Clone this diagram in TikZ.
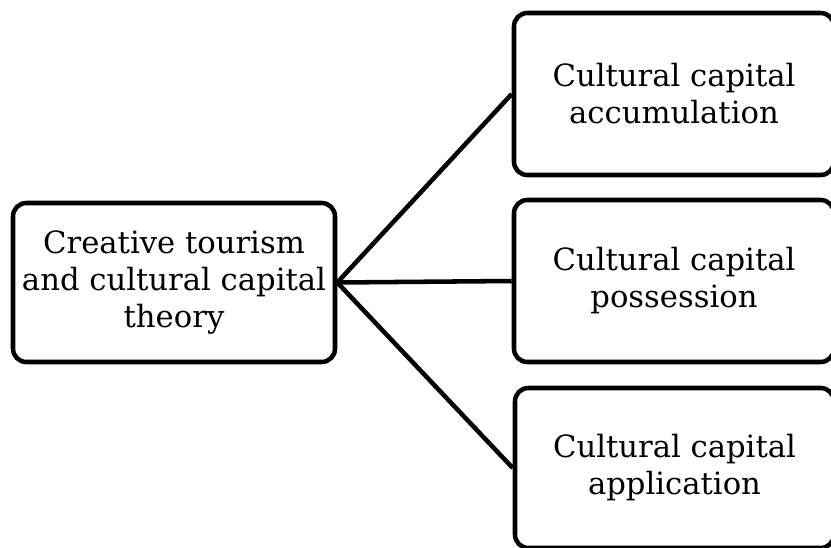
\documentclass[tikz,border=0pt]{standalone}
\usepackage{fontspec}
\setmainfont{DejaVu Serif}
\begin{document}
\begin{tikzpicture}[x=0.75pt,y=-0.75pt,
  box/.style={draw=black, line width=3.4pt, rounded corners=10pt, fill=white,
    align=center, inner sep=0pt, font=\fontsize{23pt}{27.75pt}\selectfont},
  link/.style={draw=black, line width=3.4pt}]
\useasboundingbox (0,0) rectangle (831,547);
\clip (0,0) rectangle (831,547);
\fill[white] (0,0) rectangle (831,547);
\node[box, minimum width={322*0.75pt}, minimum height={159*0.75pt}] (L) at (174,282.5)
  {Creative tourism\\and cultural capital\\theory};
\node[box, minimum width={320*0.75pt}, minimum height={162*0.75pt}] (A) at (674,94)
  {Cultural capital\\accumulation};
\node[box, minimum width={320*0.75pt}, minimum height={162*0.75pt}] (B) at (674,281)
  {Cultural capital\\possession};
\node[box, minimum width={319*0.75pt}, minimum height={160*0.75pt}] (C) at (674.5,468)
  {Cultural capital\\application};
\draw[link] (L.east) -- (A.west);
\draw[link] (L.east) -- (B.west);
\draw[link] (L.east) -- (C.west);
\end{tikzpicture}
\end{document}
